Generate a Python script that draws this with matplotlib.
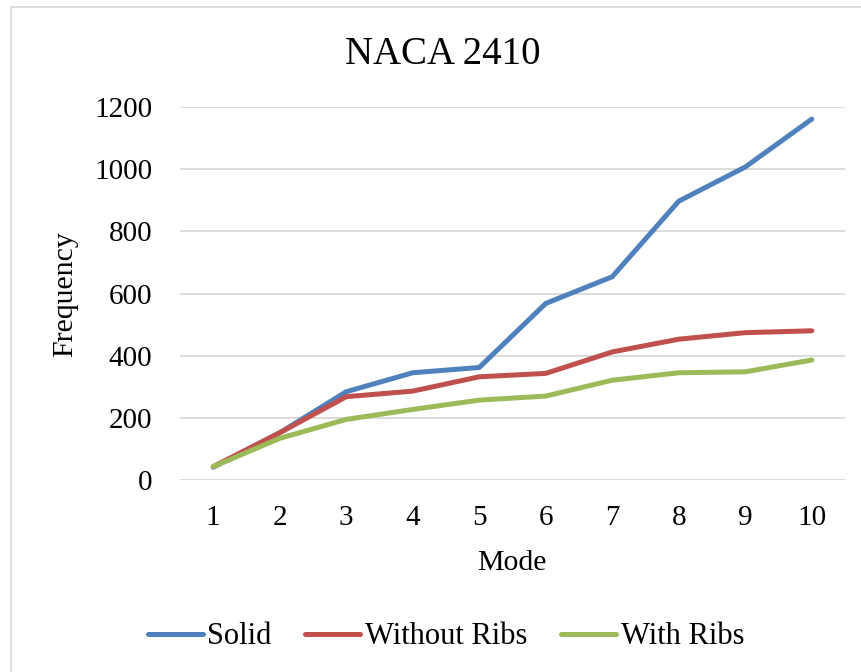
import matplotlib
matplotlib.use("Agg")
import matplotlib.pyplot as plt
from matplotlib.patches import Rectangle

modes = [1, 2, 3, 4, 5, 6, 7, 8, 9, 10]
solid = [41, 152, 284, 345, 362, 568, 654, 897, 1007, 1161]
without_ribs = [43, 152, 268, 286, 332, 343, 412, 453, 474, 480]
with_ribs = [43, 134, 195, 227, 257, 270, 321, 345, 348, 386]
y_ticks = [0, 200, 400, 600, 800, 1000, 1200]

plt.rcParams['font.family'] = ['Liberation Serif', 'DejaVu Serif']

fig = plt.figure(figsize=(8.62, 6.72), dpi=100)
fig.patch.set_facecolor('white')

# light grey chart-area border (runs off the right and bottom edges)
fig.patches.append(Rectangle((11 / 862, -0.5), 2.0, 1.5 - 7 / 672,
                             transform=fig.transFigure, fill=False,
                             edgecolor='#D9D9D9', linewidth=1.3))

ax = fig.add_axes([180 / 862, 1 - 480 / 672, 665 / 862, 373 / 672])

ax.plot(modes, solid, color='#4F81BD', linewidth=3.6, solid_capstyle='round', label='Solid', zorder=3)
ax.plot(modes, without_ribs, color='#C0504D', linewidth=3.6, solid_capstyle='round', label='Without Ribs', zorder=3)
ax.plot(modes, with_ribs, color='#9BBB59', linewidth=3.6, solid_capstyle='round', label='With Ribs', zorder=3)

ax.set_xlim(0.5, 10.5)
ax.set_ylim(0, 1200)
ax.set_xticks(modes)
ax.set_yticks(y_ticks)
ax.tick_params(axis='both', length=0, labelsize=21)
ax.tick_params(axis='y', pad=20)
ax.tick_params(axis='x', pad=18)
ax.yaxis.grid(True, color='#D9D9D9', linewidth=1.3)
ax.set_axisbelow(True)
for s in ax.spines.values():
    s.set_visible(False)

fig.text(443 / 862, 1 - 54 / 672, 'NACA 2410', ha='center', va='center', fontsize=28)
fig.text(65 / 862, 1 - 294 / 672, 'Frequency', ha='center', va='center', rotation=90, fontsize=21.5)
fig.text(512 / 862, 1 - 563 / 672, 'Mode', ha='center', va='center', fontsize=21.5)

fig.legend(loc='center', bbox_to_anchor=(446 / 862, 1 - 637 / 672), ncol=3,
           frameon=False, fontsize=22, handlelength=1.8, handletextpad=0.15,
           columnspacing=1.1)

fig.savefig('out.png', dpi=100)
